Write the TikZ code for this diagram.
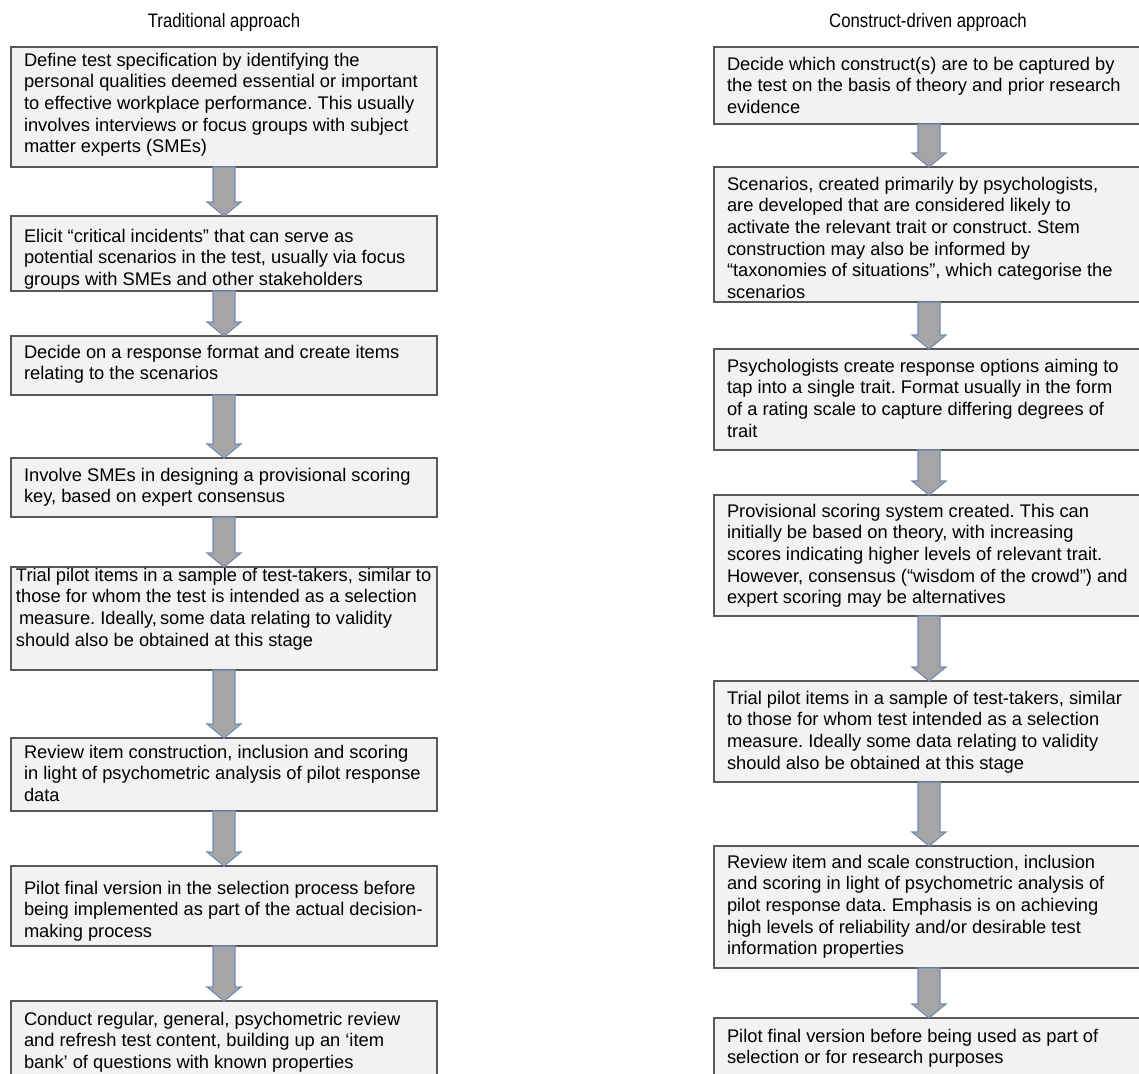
\documentclass[tikz,border=0pt]{standalone}
\usepackage{fontspec}
\setmainfont{Liberation Sans}
\newfontfamily\titlefont[FakeStretch=0.86]{Liberation Sans}
\usepackage{tikz}
\frenchspacing

\definecolor{boxfill}{HTML}{F2F2F2}
\definecolor{boxline}{HTML}{595959}
\definecolor{arrowfill}{HTML}{A5A5A5}
\definecolor{arrowline}{HTML}{6F8DB4}

\tikzset{
	stage/.style={draw=boxline, fill=boxfill, line width=1.3pt, anchor=north west,
		inner xsep=13pt, inner ysep=0pt, outer sep=0pt,
		font=\fontsize{18.3pt}{21.7pt}\selectfont},
	heading/.style={font=\titlefont\fontsize{19.5pt}{22pt}\selectfont},
	flow/.style={fill=arrowfill, draw=arrowline, line width=1.1pt, line join=miter}
}

\newcommand\stagebox[4][400pt]{\parbox[c][#2][t]{#1}{\raggedright\rule{0pt}{#3}#4}}
\newcommand\flowarrow[2]{\draw[flow] ([xshift=-11pt]#1.south)
	-- ([xshift=-11pt,yshift=14pt]#2.north) -- ([xshift=-17pt,yshift=14pt]#2.north)
	-- (#2.north) -- ([xshift=17pt,yshift=14pt]#2.north)
	-- ([xshift=11pt,yshift=14pt]#2.north) -- ([xshift=11pt]#1.south) -- cycle;}

\begin{document}
\begin{tikzpicture}[x=1pt,y=-1pt]
		\useasboundingbox (0,0) rectangle (1139,1073);
		\fill[white] (0,0) rectangle (1139,1073);
		\node (lefthead) at (224,22) [heading] {Traditional approach};
		\node (righthead) at (928,22) [heading] {Construct-driven approach};

		\node (l1) at (11,47) [stage] {\stagebox{120pt}{19pt}{Define test specification by identifying the\\ personal qualities deemed essential or important\\ to effective workplace performance. This usually\\ involves interviews or focus groups with subject\\ matter experts (SMEs)}};
		\node (l2) at (11,216) [stage] {\stagebox{75pt}{26pt}{Elicit “critical incidents” that can serve as\\ potential scenarios in the test, usually via focus\\ groups with SMEs and other stakeholders}};
		\node (l3) at (11,336) [stage] {\stagebox{59pt}{22pt}{Decide on a response format and create items\\ relating to the scenarios}};
		\node (l4) at (11,458) [stage] {\stagebox{59pt}{23pt}{Involve SMEs in designing a provisional scoring\\ key, based on expert consensus}};
		\node (l5) at (11,567) [stage, inner xsep=5pt] {\stagebox[416pt]{103pt}{14pt}{Trial pilot items in a sample of test-takers, similar to\\ those for whom the test is intended as a selection\\ \hspace*{3pt}measure. Ideally,\,some data relating to validity\\ should also be obtained at this stage}};
		\node (l6) at (11,738) [stage] {\stagebox{73pt}{20pt}{Review item construction, inclusion and scoring\\ in light of psychometric analysis of pilot response\\ data}};
		\node (l7) at (11,866) [stage] {\stagebox{80pt}{28pt}{Pilot final version in the selection process before\\ being implemented as part of the actual decision-\\ making process}};
		\node (l8) at (11,1001) [stage] {\stagebox{85pt}{24pt}{Conduct regular, general, psychometric review\\ and refresh test content, building up an ‘item\\ bank’ of questions with known properties}};

		\node (r1) at (714,47) [stage] {\stagebox[404pt]{77pt}{23pt}{Decide which construct(s) are to be captured by\\ the test on the basis of theory and prior research\\ evidence}};
		\node (r2) at (714,167) [stage] {\stagebox[404pt]{135pt}{23pt}{Scenarios, created primarily by psychologists,\\ are developed that are considered likely to\\ activate the relevant trait or construct. Stem\\ construction may also be informed by\\ “taxonomies of situations”, which categorise the\\ scenarios}};
		\node (r3) at (714,349) [stage] {\stagebox[404pt]{101pt}{23pt}{Psychologists create response options aiming to\\ tap into a single trait. Format usually in the form\\ of a rating scale to capture differing degrees of\\ trait}};
		\node (r4) at (714,495) [stage] {\stagebox[404pt]{121pt}{22pt}{Provisional scoring system created. This can\\ initially be based on theory, with increasing\\ scores indicating higher levels of relevant trait.\\ However, consensus (“wisdom of the crowd”) and\\ expert scoring may be alternatives}};
		\node (r5) at (714,681) [stage] {\stagebox[404pt]{101pt}{23pt}{Trial pilot items in a sample of test-takers, similar\\ to those for whom test intended as a selection\\ measure. Ideally some data relating to validity\\ should also be obtained at this stage}};
		\node (r6) at (714,846) [stage] {\stagebox[404pt]{122pt}{22pt}{Review item and scale construction, inclusion\\ and scoring in light of psychometric analysis of\\ pilot response data. Emphasis is on achieving\\ high levels of reliability and/or desirable test\\ information properties}};
		\node (r7) at (714,1018) [stage] {\stagebox[404pt]{70pt}{24pt}{Pilot final version before being used as part of\\ selection or for research purposes}};

		\foreach \a/\b in {l1/l2, l2/l3, l3/l4, l4/l5, l5/l6, l6/l7, l7/l8,
			r1/r2, r2/r3, r3/r4, r4/r5, r5/r6, r6/r7}
			\flowarrow{\a}{\b};
	\end{tikzpicture}
\end{document}
